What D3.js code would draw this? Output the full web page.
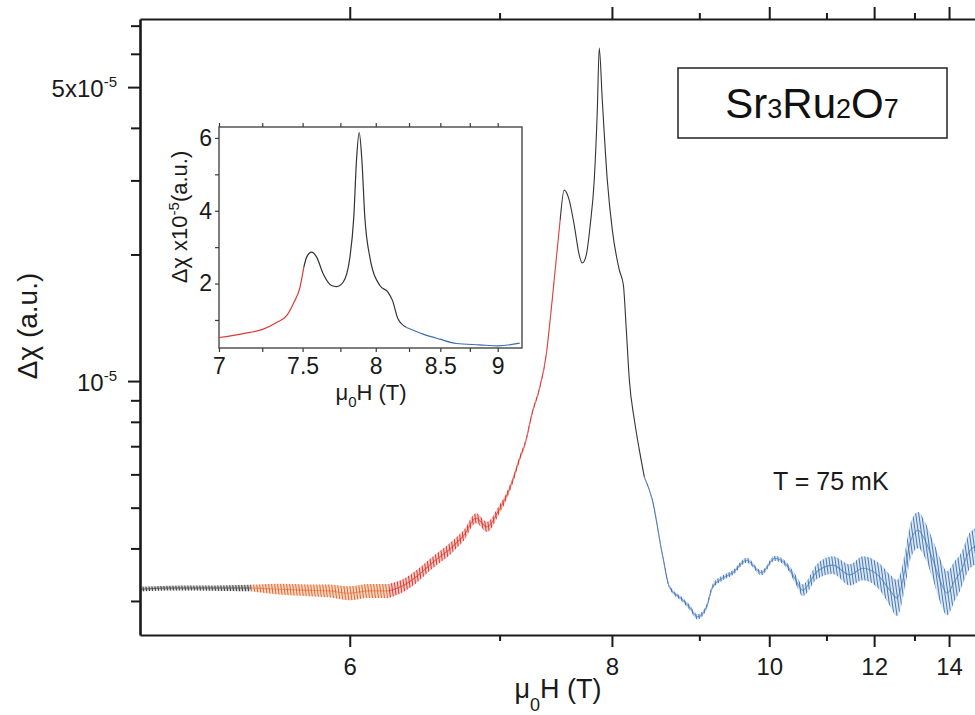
<!DOCTYPE html>
<html lang="en">
<head>
<meta charset="UTF-8">
<title>Sr3Ru2O7 susceptibility</title>
<script src="https://cdnjs.cloudflare.com/ajax/libs/d3/7.8.5/d3.min.js"></script>
<style>
    html, body {
        margin: 0;
        background: #fff;
    }
    svg {
        display: block;
        font-family: "Liberation Sans", Arial, sans-serif;
    }
    .axis path, .axis line {
        stroke: #1a1a1a;
    }
</style>
</head>
<body>
<script>

    // main trace: field (T), delta chi in units of 1e-5, quantum oscillation half amplitude (%)
    var mainField = [5.00, 5.115, 5.243, 5.378, 5.486, 5.619, 5.774, 5.882, 5.994, 6.111,
        6.232, 6.326, 6.404, 6.510, 6.648, 6.733, 6.821, 6.904, 6.996, 7.051,
        7.099, 7.156, 7.213, 7.263, 7.322, 7.383, 7.435, 7.479, 7.506, 7.542,
        7.588, 7.634, 7.681, 7.709, 7.747, 7.785, 7.824, 7.854, 7.873, 7.903,
        7.953, 8.004, 8.076, 8.118, 8.149, 8.181, 8.235, 8.289, 8.344, 8.434,
        8.549, 8.631, 8.788, 8.875, 8.976, 9.093, 9.173, 9.309, 9.449, 9.653,
        9.880, 10.087, 10.285, 10.422, 10.562, 10.817, 11.123, 11.468, 11.748, 12.133,
        12.372, 12.546, 12.749, 12.880, 13.095, 13.289, 13.518, 13.725, 13.938, 14.190,
        14.352, 14.688, 15.00];
    var mainChi = [0.320, 0.322, 0.322, 0.322, 0.322, 0.320, 0.318, 0.317, 0.313, 0.317,
        0.317, 0.327, 0.342, 0.369, 0.403, 0.430, 0.472, 0.450, 0.494, 0.530,
        0.575, 0.649, 0.724, 0.839, 0.952, 1.153, 1.558, 2.049, 2.415, 2.845,
        2.694, 2.349, 1.993, 1.908, 1.993, 2.349, 3.006, 4.410, 6.191, 4.658,
        3.006, 2.286, 1.836, 1.692, 1.322, 1.006, 0.808, 0.685, 0.591, 0.521,
        0.386, 0.324, 0.302, 0.290, 0.275, 0.290, 0.324, 0.340, 0.350, 0.375,
        0.350, 0.379, 0.365, 0.340, 0.318, 0.352, 0.365, 0.346, 0.359, 0.342,
        0.318, 0.305, 0.355, 0.412, 0.442, 0.419, 0.375, 0.336, 0.313, 0.336,
        0.350, 0.396, 0.407];
    var mainOsc = [1.3, 1.3, 1.4, 1.6, 1.8, 3.0, 3.3, 3.6, 3.9, 3.9,
        3.9, 3.6, 3.6, 3.3, 3.3, 3.0, 2.8, 2.8, 2.4, 2.0,
        1.8, 1.6, 1.4, 1.2, 1.0, 0.8, 0.6, 0.4, 0.3, 0.2,
        0, 0, 0, 0, 0, 0, 0, 0, 0, 0,
        0, 0, 0, 0, 0, 0, 0.2, 0.3, 0.4, 0.6,
        0.8, 1.0, 1.2, 1.4, 1.4, 1.4, 1.4, 1.4, 1.4, 1.4,
        1.4, 1.4, 1.6, 2.5, 3.3, 4.2, 5.0, 6.0, 6.8, 7.5,
        9.0, 10.4, 10.4, 10.4, 10.4, 10.4, 11.5, 12.8, 12.8, 11.5,
        10.4, 10.4, 10.4];
    // field where the trace colour changes
    var mainBreaks = [5.486, 6.232, 7.506, 8.344];

    // inset: linear scale close-up
    var insetField = [7.000, 7.100, 7.177, 7.256, 7.337, 7.399, 7.440, 7.483, 7.508, 7.526,
        7.558, 7.591, 7.634, 7.690, 7.724, 7.769, 7.816, 7.843, 7.862, 7.881,
        7.900, 7.921, 7.957, 8.030, 8.091, 8.124, 8.166, 8.231, 8.361, 8.496,
        8.635, 8.837, 9.003, 9.208];
    var insetChi = [0.519, 0.593, 0.657, 0.750, 0.932, 1.117, 1.440, 1.898, 2.450, 2.726,
        2.863, 2.726, 2.268, 1.945, 1.917, 2.036, 2.726, 3.829, 5.393, 6.146,
        5.393, 3.829, 2.726, 1.945, 1.760, 1.531, 1.026, 0.794, 0.612, 0.474,
        0.353, 0.317, 0.290, 0.364];
    var insetBreaks = [7.508, 8.231];

    var xMajor = [6, 8, 10, 12, 14];
    var xMinor = [7, 9, 11, 13];
    var yMajor = [1, 5];
    var yMinor = [0.3, 0.4, 0.5, 0.6, 0.7, 0.8, 0.9, 2, 3, 4, 6, 7];
    var insetXMajor = [7, 7.5, 8, 8.5, 9];
    var insetXMinor = [7.25, 7.75, 8.25, 8.75];
    var insetYMajor = [2, 4, 6];
    var insetYMinor = [1, 3, 5];

    var mainColors = ["black", "orange", "red", "black", "blue"];
    var insetColors = ["red", "black", "blue"];
    var palette = {
        black: {line: "#333333", dark: "#3a3a3a", light: "#a0a0a0"},
        orange: {line: "#e8785a", dark: "#e2603f", light: "#f4b878"},
        red: {line: "#dc3a36", dark: "#d83434", light: "#f29a88"},
        blue: {line: "#3d6fae", dark: "#4677b4", light: "#b3cdea"}
    };

    var width = 975, height = 715;
    var svg = d3.select("body").append("svg").attr("width", width).attr("height", height);

    // stripe fills for the dense oscillation bands
    var defs = svg.append("defs");
    Object.keys(palette).forEach(function (k) {
        var p = defs.append("pattern").attr("id", "osc-" + k)
            .attr("patternUnits", "userSpaceOnUse").attr("width", 3).attr("height", 6)
            .attr("patternTransform", "skewX(8)");
        p.append("rect").attr("x", 0).attr("y", 0).attr("width", 1).attr("height", 6).attr("fill", palette[k].dark);
        p.append("rect").attr("x", 1.5).attr("y", 0).attr("width", 1).attr("height", 6).attr("fill", palette[k].light);
    });

    var margin = {left: 140, top: 19, right: 979, bottom: 635};

    // field axis is linear in 1/H
    var x = d3.scaleLinear().domain([1 / 5, 1 / 15]).range([margin.left, margin.right]);
    var y = d3.scaleLog().domain([0.249, 7.26]).range([margin.bottom, margin.top]);

    var rows = mainField.map(function (f, i) {
        return {f: f, v: mainChi[i], a: mainOsc[i] / 100};
    });

    function split(data, breaks) {
        var out = [];
        for (var i = 0; i <= breaks.length; i++) {
            var lo = i === 0 ? -Infinity : breaks[i - 1];
            var hi = i === breaks.length ? Infinity : breaks[i];
            out.push(data.filter(function (d) {
                return d.f >= lo && d.f <= hi;
            }));
        }
        return out;
    }

    var band = d3.area()
        .x(function (d) { return x(1 / d.f); })
        .y0(function (d) { return y(d.v / (1 + d.a)); })
        .y1(function (d) { return y(d.v * (1 + d.a)); })
        .curve(d3.curveMonotoneX);
    var line = d3.line()
        .x(function (d) { return x(1 / d.f); })
        .y(function (d) { return y(d.v); })
        .curve(d3.curveMonotoneX);

    var plot = svg.append("g");
    split(rows, mainBreaks).forEach(function (seg, i) {
        var c = mainColors[i];
        plot.append("path").attr("d", line(seg)).attr("fill", "none")
            .attr("stroke", palette[c].line).attr("stroke-width", 1.1);
        plot.append("path").attr("d", band(seg)).attr("fill", "url(#osc-" + c + ")").attr("stroke", "none");
    });

    // main axes
    function inv(v) { return 1 / v; }
    var fmtField = function (d) { return Math.round(1 / d); };

    svg.append("g").attr("class", "axis").attr("transform", "translate(0," + margin.bottom + ")")
        .call(d3.axisBottom(x).tickValues(xMajor.map(inv)).tickFormat(fmtField).tickSize(12).tickSizeOuter(0).tickPadding(11))
        .call(function (g) {
            g.select(".domain").attr("stroke-width", 2.2);
            g.selectAll("line").attr("stroke-width", 2);
            g.selectAll("text").attr("font-size", 24).attr("fill", "#1a1a1a");
        });
    svg.append("g").attr("class", "axis").attr("transform", "translate(0," + margin.bottom + ")")
        .call(d3.axisBottom(x).tickValues(xMinor.map(inv)).tickFormat("").tickSize(6).tickSizeOuter(0))
        .call(function (g) {
            g.select(".domain").remove();
            g.selectAll("line").attr("stroke-width", 2);
        });
    svg.append("g").attr("class", "axis").attr("transform", "translate(0," + margin.top + ")")
        .call(d3.axisTop(x).tickValues(xMajor.map(inv)).tickFormat("").tickSize(12).tickSizeOuter(0))
        .call(function (g) {
            g.select(".domain").attr("stroke-width", 2.2);
            g.selectAll("line").attr("stroke-width", 2);
        });
    svg.append("g").attr("class", "axis").attr("transform", "translate(0," + margin.top + ")")
        .call(d3.axisTop(x).tickValues(xMinor.map(inv)).tickFormat("").tickSize(6).tickSizeOuter(0))
        .call(function (g) {
            g.select(".domain").remove();
            g.selectAll("line").attr("stroke-width", 2);
        });

    svg.append("g").attr("class", "axis").attr("transform", "translate(" + margin.left + ",0)")
        .call(d3.axisLeft(y).tickValues(yMinor).tickFormat("").tickSize(9).tickSizeOuter(0))
        .call(function (g) {
            g.select(".domain").attr("stroke-width", 2.6);
            g.selectAll("line").attr("stroke-width", 2);
        });
    svg.append("g").attr("class", "axis").attr("transform", "translate(" + margin.left + ",0)")
        .call(d3.axisLeft(y).tickValues(yMajor).tickFormat("").tickSize(12).tickSizeOuter(0))
        .call(function (g) {
            g.select(".domain").remove();
            g.selectAll("line").attr("stroke-width", 2);
            g.selectAll(".tick").append("text")
                .attr("x", -23).attr("y", 9)
                .attr("text-anchor", "end").attr("fill", "#1a1a1a").attr("font-size", 24)
                .each(function (d) {
                    var t = d3.select(this);
                    t.append("tspan").text(d === 1 ? "10" : d + "x10");
                    t.append("tspan").attr("dy", -10).attr("font-size", 15).text("-5");
                });
        });

    // axis titles
    var xt = svg.append("text").attr("x", 558).attr("y", 698).attr("text-anchor", "middle")
        .attr("font-size", 27).attr("fill", "#1a1a1a");
    xt.append("tspan").text("\u03bc");
    xt.append("tspan").attr("dy", 13).attr("font-size", 18).text("0");
    xt.append("tspan").attr("dy", -13).text("H (T)");

    svg.append("text").attr("transform", "translate(37,326) rotate(-90)").attr("text-anchor", "middle")
        .attr("font-size", 28).attr("fill", "#1a1a1a").text("\u0394\u03c7 (a.u.)");

    // compound label box
    svg.append("rect").attr("x", 678).attr("y", 68).attr("width", 269).attr("height", 70)
        .attr("fill", "#fff").attr("stroke", "#222").attr("stroke-width", 1.5);
    var comp = svg.append("text").attr("x", 812).attr("y", 118).attr("text-anchor", "middle")
        .attr("font-size", 42).attr("fill", "#111");
    [["Sr", 42], ["3", 27], ["Ru", 42], ["2", 27], ["O", 42], ["7", 27]].forEach(function (p) {
        comp.append("tspan").attr("font-size", p[1]).text(p[0]);
    });

    svg.append("text").attr("x", 773).attr("y", 490).attr("font-size", 25).attr("fill", "#1a1a1a")
        .text("T = 75 mK");

    // ---- inset ----
    var ib = {left: 219, right: 522, top: 127, bottom: 348};
    var xi = d3.scaleLinear().domain([1 / 7, 1 / 9.23]).range([ib.left, ib.right]);
    var yi = d3.scaleLinear().domain([0.23, 6.3]).range([ib.bottom, ib.top]);

    var inset = svg.append("g");
    inset.append("rect").attr("x", ib.left).attr("y", ib.top)
        .attr("width", ib.right - ib.left).attr("height", ib.bottom - ib.top)
        .attr("fill", "#fff").attr("stroke", "#3a3a3a").attr("stroke-width", 1.3);

    var irows = insetField.map(function (f, i) {
        return {f: f, v: insetChi[i]};
    });
    var iline = d3.line()
        .x(function (d) { return xi(1 / d.f); })
        .y(function (d) { return yi(d.v); })
        .curve(d3.curveMonotoneX);
    split(irows, insetBreaks).forEach(function (seg, i) {
        inset.append("path").attr("d", iline(seg)).attr("fill", "none")
            .attr("stroke", palette[insetColors[i]].line).attr("stroke-width", 1.2);
    });

    function smallAxis(g) {
        g.select(".domain").remove();
        g.selectAll("line").attr("stroke", "#3a3a3a").attr("stroke-width", 1.2);
        g.selectAll("text").attr("font-size", 23).attr("fill", "#1a1a1a");
    }
    var fmtInset = function (d) { return d3.format("")(+(1 / d).toFixed(1)); };
    inset.append("g").attr("transform", "translate(0," + ib.bottom + ")")
        .call(d3.axisBottom(xi).tickValues(insetXMajor.map(inv)).tickFormat(fmtInset).tickSize(4).tickPadding(6))
        .call(smallAxis);
    inset.append("g").attr("transform", "translate(0," + ib.bottom + ")")
        .call(d3.axisBottom(xi).tickValues(insetXMinor.map(inv)).tickFormat("").tickSize(4))
        .call(smallAxis);
    inset.append("g").attr("transform", "translate(0," + ib.top + ")")
        .call(d3.axisTop(xi).tickValues(insetXMajor.concat(insetXMinor).map(inv)).tickFormat("").tickSize(4))
        .call(smallAxis);
    inset.append("g").attr("transform", "translate(" + ib.left + ",0)")
        .call(d3.axisLeft(yi).tickValues(insetYMajor).tickFormat(d3.format("d")).tickSize(4).tickPadding(3))
        .call(smallAxis);
    inset.append("g").attr("transform", "translate(" + ib.left + ",0)")
        .call(d3.axisLeft(yi).tickValues(insetYMinor).tickFormat("").tickSize(4))
        .call(smallAxis);

    var ixt = inset.append("text").attr("x", 371).attr("y", 400).attr("text-anchor", "middle")
        .attr("font-size", 22).attr("fill", "#1a1a1a");
    ixt.append("tspan").text("\u03bc");
    ixt.append("tspan").attr("dy", 7).attr("font-size", 15).text("0");
    ixt.append("tspan").attr("dy", -7).text("H (T)");

    var iyt = inset.append("text").attr("transform", "translate(187,217) rotate(-90)")
        .attr("text-anchor", "middle").attr("font-size", 22).attr("fill", "#1a1a1a");
    iyt.append("tspan").text("\u0394\u03c7 x10");
    iyt.append("tspan").attr("dy", -8).attr("font-size", 15).text("-5");
    iyt.append("tspan").attr("dy", 8).text("(a.u.)");

</script>
</body>
</html>
